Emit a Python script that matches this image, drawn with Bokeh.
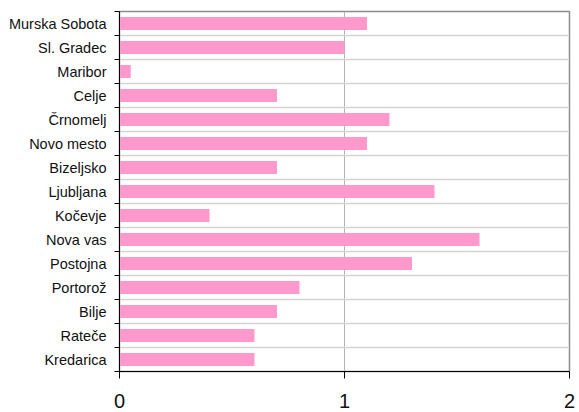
from bokeh.plotting import figure
from bokeh.models import FixedTicker, Range1d
from bokeh.embed import file_html
from bokeh.resources import INLINE

# Stations, top to bottom
stations = ["Murska Sobota", "Sl. Gradec", "Maribor", "Celje", "Črnomelj",
            "Novo mesto", "Bizeljsko", "Ljubljana", "Kočevje", "Nova vas",
            "Postojna", "Portorož", "Bilje", "Rateče", "Kredarica"]
values = [1.1, 1.0, 0.05, 0.7, 1.2, 1.1, 0.7, 1.4, 0.4, 1.6, 1.3, 0.8, 0.7, 0.6, 0.6]
x_ticks = [0, 1, 2]

n = len(stations)
# bar centres, first station at the top
centers = [n - i - 0.5 for i in range(n)]
bounds = list(range(n + 1))

p = figure(width=579, height=412, output_backend="svg", toolbar_location=None,
           x_range=Range1d(0, 2), y_range=Range1d(0, n),
           min_border_left=119, min_border_right=10, min_border_top=11,
           min_border_bottom=41)

p.hbar(y=centers, right=values, left=0, height=0.55,
       fill_color="#ff99cc", line_color=None)

# y axis: labels at centres, small ticks at the category boundaries
yax = p.yaxis[0]
yax.ticker = FixedTicker(ticks=centers, minor_ticks=bounds)
yax.major_label_overrides = {c: s for c, s in zip(centers, stations)}
yax.major_tick_out = 0
yax.major_tick_in = 0
yax.minor_tick_out = 5
yax.minor_tick_in = 0
yax.minor_tick_line_color = "black"
yax.axis_line_color = "black"
yax.major_label_text_font = "Liberation Sans"
yax.major_label_text_font_size = "14.5px"
yax.major_label_text_color = "#111111"
yax.major_label_standoff = 8

xax = p.xaxis[0]
xax.ticker = FixedTicker(ticks=x_ticks)
xax.major_tick_out = 7
xax.major_tick_in = 0
xax.minor_tick_out = 0
xax.minor_tick_in = 0
xax.axis_line_color = "black"
xax.major_label_text_font = "Liberation Sans"
xax.major_label_text_font_size = "20px"
xax.major_label_text_color = "#111111"
xax.major_label_standoff = 15

p.ygrid[0].ticker = FixedTicker(ticks=bounds)
p.ygrid[0].grid_line_color = "#d4d4d4"
p.ygrid[0].grid_line_width = 1.5
p.xgrid[0].ticker = FixedTicker(ticks=[1])
p.xgrid[0].grid_line_color = "#b4b4b4"

p.outline_line_color = "#8c8c8c"
p.outline_line_width = 1.5

open("out.html", "w").write(file_html(p, INLINE))
